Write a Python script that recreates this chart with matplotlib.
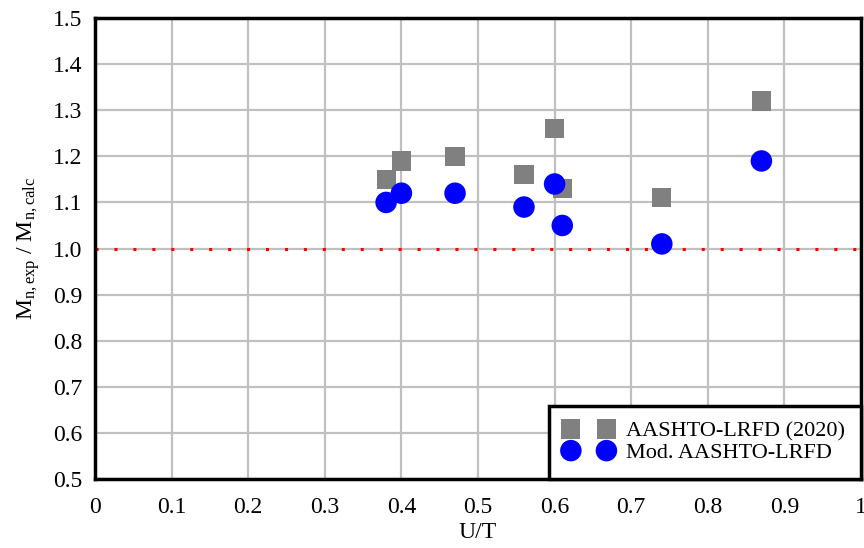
import matplotlib
matplotlib.use("Agg")
import matplotlib.pyplot as plt
import numpy as np

plt.rcParams['font.family'] = ['Liberation Serif', 'DejaVu Serif']
plt.rcParams['mathtext.fontset'] = 'custom'
plt.rcParams['mathtext.rm'] = 'Liberation Serif'
plt.rcParams['mathtext.it'] = 'Liberation Serif'

# data
ut = [0.38, 0.40, 0.47, 0.56, 0.60, 0.61, 0.74, 0.87]
aashto_2020 = [1.15, 1.19, 1.20, 1.16, 1.26, 1.13, 1.11, 1.32]
mod_aashto = [1.10, 1.12, 1.12, 1.09, 1.14, 1.05, 1.01, 1.19]

fig = plt.figure(figsize=(8.64, 5.48), dpi=100)
ax = fig.add_axes([0.110, 0.126, 0.8865, 0.841])

ax.scatter(ut, aashto_2020, marker='s', s=190, color='#808080',
           edgecolors='none', label='AASHTO-LRFD (2020)', zorder=3)
ax.scatter(ut, mod_aashto, marker='o', s=240, color='#0000ff',
           edgecolors='none', label='Mod. AASHTO-LRFD', zorder=4)

# reference line at 1.0
ax.axhline(1.0, color='#ff0000', linestyle=(0, (1, 5.2)), linewidth=2.2, zorder=2)

ax.set_xlim(0, 1)
ax.set_ylim(0.5, 1.5)
ax.set_xticks(np.arange(0, 1.01, 0.1))
ax.set_yticks(np.arange(0.5, 1.51, 0.1))
ax.set_xticklabels(['0', '0.1', '0.2', '0.3', '0.4', '0.5', '0.6', '0.7', '0.8', '0.9', '1'])
ax.set_yticklabels(['%.1f' % v for v in np.arange(0.5, 1.51, 0.1)])
ax.tick_params(axis='x', length=0, labelsize=17, pad=13)
ax.tick_params(axis='y', length=0, labelsize=17, pad=9)
ax.grid(True, color='#c0c0c0', linewidth=1.6, zorder=0)
ax.set_axisbelow(True)
for sp in ax.spines.values():
    sp.set_linewidth(2.5)
    sp.set_color('black')

ax.set_xlabel('U/T', fontsize=17, labelpad=3)
ax.set_ylabel(r'M$_{\mathrm{n,exp}}$ / M$_{\mathrm{n,calc}}$', fontsize=17, labelpad=8)

leg = ax.legend(loc='lower right', scatterpoints=2, scatteryoffsets=[0.5], fontsize=16,
                frameon=True, fancybox=False, borderaxespad=0,
                handlelength=2.2, handletextpad=0.6, borderpad=0.7, labelspacing=0.05)
leg.get_frame().set_edgecolor('black')
leg.get_frame().set_linewidth(2.5)
leg.get_frame().set_alpha(1)

fig.savefig('out.png', dpi=100)
